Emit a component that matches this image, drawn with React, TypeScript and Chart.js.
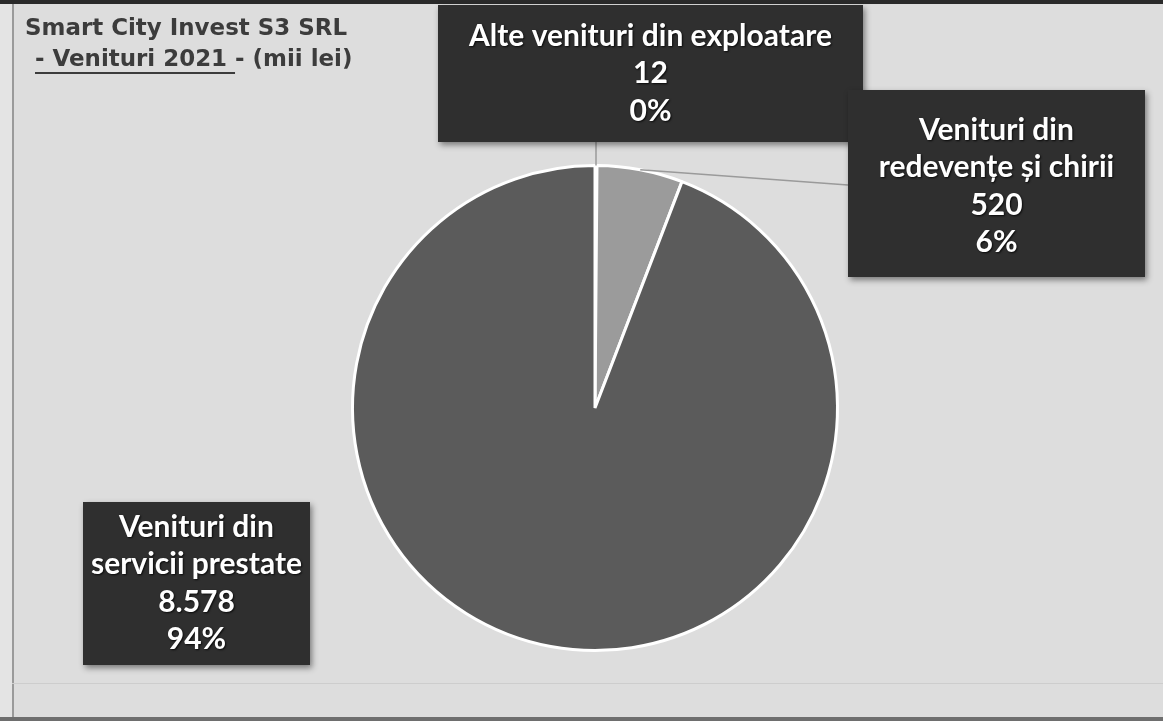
import React, { useEffect, useRef } from "react";
import { Chart, registerables } from "chart.js";

Chart.register(...registerables);

const titleLine1 = "Smart City Invest S3 SRL";
const titleLine2Underlined = "- Venituri 2021 ";
const titleLine2Rest = "- (mii lei)";

const categories = [
  ["Alte venituri din exploatare"],
  ["Venituri din", "redevențe și chirii"],
  ["Venituri din", "servicii prestate"],
];
const values = [12, 520, 8578];
const sliceColors = ["#6a6a6a", "#9b9b9b", "#5b5b5b"];

// label box layout (pixels)
const boxRects = [
  { x: 438, y: 5, w: 425, h: 137, dy: 0 },
  { x: 848, y: 90, w: 297, h: 187, dy: 3 },
  { x: 83, y: 502, w: 227, h: 163, dy: 0 },
];

function fmtThousands(v: number): string {
  return String(v).replace(/\B(?=(\d{3})+(?!\d))/g, ".");
}

const FONT = "Lato, 'Open Sans', sans-serif";
const TITLE_FONT = "'DejaVu Sans', 'Liberation Sans', Arial, sans-serif";

const overlayPlugin = {
  id: "overlay",
  beforeDraw(chart: any) {
    const ctx = chart.ctx as CanvasRenderingContext2D;
    const W = chart.width;
    const H = chart.height;
    ctx.save();
    ctx.fillStyle = "#dddddd";
    ctx.fillRect(0, 0, W, H);
    ctx.fillStyle = "#e4e4e4";
    ctx.fillRect(0, 0, 12, H);
    ctx.fillStyle = "#2a2a2a";
    ctx.fillRect(0, 0, W, 4);
    ctx.fillStyle = "#9a9a9a";
    ctx.fillRect(12, 4, 2, H - 8);
    ctx.fillStyle = "#cdcdcd";
    ctx.fillRect(12, 683, W - 12, 1);
    ctx.fillStyle = "#6e6e6e";
    ctx.fillRect(0, H - 4, W, 4);
    ctx.restore();
  },
  afterDraw(chart: any) {
    const ctx = chart.ctx as CanvasRenderingContext2D;
    const meta = chart.getDatasetMeta(0);
    const total = values.reduce((a, b) => a + b, 0);

    // title (fit to reference width)
    ctx.save();
    ctx.fillStyle = "#3c3c3c";
    ctx.textBaseline = "middle";
    ctx.textAlign = "left";
    ctx.font = `bold 20px ${TITLE_FONT}`;
    const w20 = ctx.measureText(titleLine1).width;
    const size = Math.min(24, (20 * 322) / w20);
    ctx.font = `bold ${size.toFixed(2)}px ${TITLE_FONT}`;
    ctx.fillText(titleLine1, 25, 29);
    const x2 = 35;
    ctx.fillText(titleLine2Underlined, x2, 60);
    const uw = ctx.measureText(titleLine2Underlined).width;
    ctx.fillRect(x2, 72, uw, 2);
    ctx.fillText(titleLine2Rest, x2 + uw, 60);
    ctx.restore();

    // leader lines
    ctx.save();
    ctx.strokeStyle = "#9a9a9a";
    ctx.lineWidth = 1.5;
    meta.data.forEach((arc: any, i: number) => {
      const b = boxRects[i];
      const mid = (arc.startAngle + arc.endAngle) / 2;
      const r = arc.outerRadius;
      const px = arc.x + Math.cos(mid) * r;
      const py = arc.y + Math.sin(mid) * r;
      if (i === 0) {
        ctx.beginPath();
        ctx.moveTo(px, py);
        ctx.lineTo(px, b.y + b.h);
        ctx.stroke();
      } else if (i === 1) {
        ctx.beginPath();
        ctx.moveTo(px, py);
        ctx.lineTo(b.x, b.y + 95);
        ctx.stroke();
      }
    });
    ctx.restore();

    // boxes
    values.forEach((v, i) => {
      const b = boxRects[i];
      ctx.save();
      ctx.shadowColor = "rgba(0,0,0,0.45)";
      ctx.shadowBlur = 6;
      ctx.shadowOffsetX = 2;
      ctx.shadowOffsetY = 3;
      ctx.fillStyle = "#2f2f2f";
      ctx.fillRect(b.x, b.y, b.w, b.h);
      ctx.restore();

      const lines = [...categories[i], fmtThousands(v), Math.round((v / total) * 100) + "%"];
      const lh = 37.5;
      const startY = b.y + b.h / 2 - ((lines.length - 1) * lh) / 2 + b.dy;
      ctx.save();
      ctx.font = `bold 30px ${FONT}`;
      ctx.textAlign = "center";
      ctx.textBaseline = "middle";
      ctx.shadowColor = "rgba(0,0,0,0.8)";
      ctx.shadowBlur = 2;
      ctx.shadowOffsetX = 1;
      ctx.shadowOffsetY = 1;
      ctx.fillStyle = "#ffffff";
      lines.forEach((t, k) => {
        ctx.fillText(t, b.x + b.w / 2, startY + k * lh);
      });
      ctx.restore();
    });
  },
};

export default function App() {
  const ref = useRef<HTMLCanvasElement | null>(null);
  useEffect(() => {
    document.body.style.margin = "0";
    if (!ref.current) return;
    const chart = new Chart(ref.current, {
      type: "pie",
      data: {
        labels: categories.map((c) => c.join(" ")),
        datasets: [
          {
            data: values,
            backgroundColor: sliceColors,
            borderColor: "#ffffff",
            borderWidth: 3,
          },
        ],
      },
      options: {
        animation: false,
        responsive: false,
        layout: { padding: { left: 100, right: 73, top: 164, bottom: 69 } },
        plugins: {
          legend: { display: false },
          tooltip: { enabled: false },
          title: { display: false },
        },
      },
      plugins: [overlayPlugin],
    });
    return () => chart.destroy();
  }, []);
  return (
    <div style={{ width: 1163, height: 721, margin: 0, padding: 0 }}>
      <canvas ref={ref} width={1163} height={721} style={{ display: "block" }} />
    </div>
  );
}
